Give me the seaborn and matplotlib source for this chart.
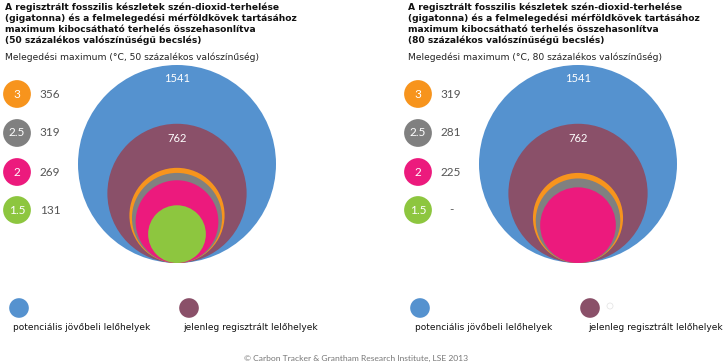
import matplotlib
matplotlib.use("Agg")
import matplotlib.pyplot as plt
import seaborn as sns
import pandas as pd
from matplotlib.patches import Circle

# data
warming_levels = ["3", "2.5", "2", "1.5"]
budget_50 = [356, 319, 269, 131]
budget_80 = [319, 281, 225, None]
potential_reserves = 1541
current_reserves = 762
level_colors = ["#F7941D", "#808080", "#EC1A7D", "#8DC63F"]
blue = "#5592CF"
purple = "#8A5069"

title_lines = [
    "A regisztrált fosszilis készletek szén-dioxid-terhelése",
    "(gigatonna) és a felmelegedési mérföldkövek tartásához",
    "maximum kibocsátható terhelés összehasonlítva",
]
title_last = ["(50 százalékos valószínűségű becslés)",
              "(80 százalékos valószínűségű becslés)"]
subtitles = [
    "Melegedési maximum (°C, 50 százalékos valószínűség)",
    "Melegedési maximum (°C, 80 százalékos valószínűség)",
]
legend_labels = ["potenciális jövőbeli lelőhelyek", "jelenleg regisztrált lelőhelyek"]
credit = "© Carbon Tracker & Grantham Research Institute, LSE 2013"

sns.set_theme(style="white")
plt.rcParams["font.family"] = ["DejaVu Sans"]

W, H = 727, 364
fig = plt.figure(figsize=(W / 100, H / 100), dpi=100)
ax = fig.add_axes([0, 0, 1, 1])
ax.set_xlim(0, W)
ax.set_ylim(H, 0)
ax.set_aspect("equal")
ax.axis("off")

R_MAX = 99
BASE_Y = 263


def radius(v):
    return R_MAX * (v / potential_reserves) ** 0.5


panels = [
    dict(x0=5, cx=177, lx=17, vx=50, budgets=budget_50),
    dict(x0=408, cx=578, lx=418, vx=451, budgets=budget_80),
]
row_y = [94, 133, 172, 210]

for i, p in enumerate(panels):
    for k, line in enumerate(title_lines + [title_last[i]]):
        ax.text(p["x0"], 7 + 11 * k, line, fontsize=6.55, fontweight="bold",
                va="center", ha="left", color="#111111")
    ax.text(p["x0"], 57, subtitles[i], fontsize=6.6, va="center", ha="left",
            color="#222222")

    # nested circles, bottom-aligned, area proportional to value
    values = [potential_reserves, current_reserves] + p["budgets"]
    colors = [blue, purple] + level_colors
    for v, c in zip(values, colors):
        if v is None:
            continue
        r = radius(v)
        ax.add_patch(Circle((p["cx"], BASE_Y - r), r, color=c, lw=0))
    ax.text(p["cx"], 79, str(potential_reserves), color="white", fontsize=8,
            family="Lato", ha="center", va="center")
    ax.text(p["cx"], 138, str(current_reserves), color="white", fontsize=8,
            family="Lato", ha="center", va="center")

    # warming-level legend
    df = pd.DataFrame({"x": [p["lx"]] * 4, "y": row_y, "lvl": warming_levels})
    sns.scatterplot(data=df, x="x", y="y", hue="lvl", palette=level_colors,
                    s=400, linewidth=0, legend=False, ax=ax)
    for lvl, y, b in zip(warming_levels, row_y, p["budgets"]):
        ax.text(p["lx"], y, lvl, color="white", fontsize=8.5, family="Lato",
                ha="center", va="center")
        ax.text(p["vx"], y, "-" if b is None else str(b), color="#555555",
                fontsize=8.5, family="Lato", ha="center", va="center")

# bottom legend
leg_dots = pd.DataFrame({
    "x": [19, 189, 420, 590],
    "y": [308] * 4,
    "kind": ["p", "c", "p", "c"],
})
sns.scatterplot(data=leg_dots, x="x", y="y", hue="kind",
                palette={"p": blue, "c": purple}, s=200, linewidth=0,
                legend=False, ax=ax)
ax.add_patch(Circle((610, 306), 3, fill=False, ec="#e6e6e6", lw=0.6))
for x, lab in zip([13, 183, 415, 588], legend_labels * 2):
    ax.text(x, 327, lab, fontsize=6.45, color="#111111", ha="left", va="center")

ax.text(356, 358, credit, fontsize=6.1, family="Lato", color="#777777",
        ha="center", va="center")
ax.set_xlim(0, W)
ax.set_ylim(H, 0)

fig.savefig("out.png", dpi=100)
